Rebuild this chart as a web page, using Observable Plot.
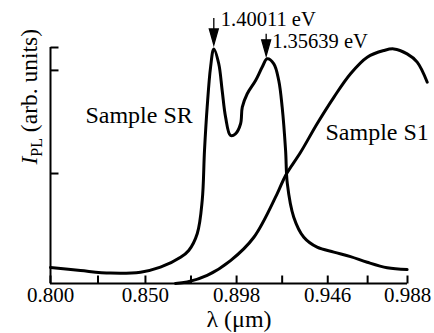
<!DOCTYPE html>
<html><head><meta charset="utf-8">
<script src="https://cdn.jsdelivr.net/npm/d3@7"></script>
<script src="https://cdn.jsdelivr.net/npm/@observablehq/plot@0.6"></script>
<style>html,body{margin:0;padding:0;background:#fff;}</style>
</head><body><div id="chart"></div>
<script>
// Sample SR photoluminescence (λ in µm, intensity in arb. units)
const srLambda = [0.8000,0.8158,0.8316,0.8474,0.8579,0.8685,0.8728,0.8773,0.8799,0.8811,0.8825,0.8843,0.8860,0.8886,0.8904,0.8922,0.8948,0.8974,0.9001,0.9010,0.9036,0.9080,0.9115,0.9141,0.9176,0.9202,0.9220,0.9238,0.9247,0.9281,0.9334,0.9404,0.9492,0.9580,0.9668,0.9773,0.9878];
const srIntensity = [0.068,0.055,0.044,0.048,0.069,0.111,0.140,0.212,0.352,0.564,0.747,0.917,0.994,0.931,0.818,0.705,0.627,0.634,0.677,0.747,0.804,0.860,0.917,0.952,0.931,0.860,0.747,0.564,0.424,0.281,0.196,0.154,0.133,0.114,0.090,0.067,0.059];
// Sample S1
const s1Lambda = [0.8658,0.8720,0.8825,0.8948,0.9071,0.9194,0.9238,0.9317,0.9404,0.9492,0.9580,0.9668,0.9755,0.9808,0.9878,0.9931,0.9984];
const s1Intensity = [0.000,0.006,0.034,0.097,0.196,0.381,0.458,0.556,0.677,0.789,0.889,0.959,0.987,0.994,0.973,0.938,0.853];
// axes
const xMajorTicks = [0.800,0.850,0.898,0.946,0.988];
const xMinorTicks = [0.825,0.874,0.922,0.967];
const yTicks = [0.466,0.903,1.0];
// annotations
const peakLambda = [0.8860,0.9141];
const peakIntensity = [0.994,0.952];
const peakLabels = ["1.40011 eV","1.35639 eV"];
const seriesNames = ["Sample SR","Sample S1"];
const xLabel = "λ (μm)";
const yLabelMain = "I", yLabelSub = "PL", yLabelRest = " (arb. units)";

const sr = srLambda.map((x,i)=>({x, y: srIntensity[i]}));
const s1 = s1Lambda.map((x,i)=>({x, y: s1Intensity[i]}));

const tickUp = {draw(c){c.moveTo(0,0);c.lineTo(0,-8);}};
const tickRight = {draw(c){c.moveTo(0,0);c.lineTo(8,0);}};
function arrowDown(len){return {draw(c){c.moveTo(0,-len);c.lineTo(0,-14);c.moveTo(-4.5,-16);c.lineTo(4.5,-16);c.lineTo(0,0);c.closePath();}};}

const font = "Liberation Serif, Times New Roman, serif";
const yLabelKey = yLabelMain + yLabelSub + yLabelRest;

const svg = Plot.plot({
  width: 434, height: 333,
  marginLeft: 50, marginRight: 27, marginTop: 47, marginBottom: 50,
  style: {fontFamily: font, fontSize: "20px", background: "white", color: "black"},
  x: {domain: [0.8, 0.988]},
  y: {domain: [0, 1], axis: null},
  marks: [
    Plot.axisX(xMajorTicks, {tickSize: 0, tickPadding: 4, tickFormat: d3.format(".3f"), label: null, fontSize: 21}),
    Plot.ruleY([0], {stroke: "black", strokeWidth: 2}),
    Plot.ruleX([0.8], {stroke: "black", strokeWidth: 2}),
    Plot.dot(xMajorTicks.concat(xMinorTicks), {x: d=>d, y: ()=>0, symbol: tickUp, r: 1, fill: "none", stroke: "black", strokeWidth: 2}),
    Plot.dot(yTicks, {x: ()=>0.8, y: d=>d, symbol: tickRight, r: 1, fill: "none", stroke: "black", strokeWidth: 2}),
    Plot.line(sr, {x: "x", y: "y", curve: "catmull-rom", stroke: "black", strokeWidth: 3}),
    Plot.line(s1, {x: "x", y: "y", curve: "catmull-rom", stroke: "black", strokeWidth: 3}),
    Plot.dot([0], {x: i=>peakLambda[i], y: i=>peakIntensity[i], dy: -4, symbol: arrowDown(27), r: 1, fill: "black", stroke: "black", strokeWidth: 1.3}),
    Plot.dot([1], {x: i=>peakLambda[i], y: i=>peakIntensity[i], dx: -1, dy: -3, symbol: arrowDown(22), r: 1, fill: "black", stroke: "black", strokeWidth: 1.3}),
    Plot.text([0], {x: i=>peakLambda[i], y: i=>peakIntensity[i], text: i=>peakLabels[i], textAnchor: "start", lineAnchor: "bottom", dx: 7, dy: -23, fontSize: 20.5}),
    Plot.text([1], {x: i=>peakLambda[i], y: i=>peakIntensity[i], text: i=>peakLabels[i], textAnchor: "start", lineAnchor: "bottom", dx: 5, dy: -11, fontSize: 20.5}),
    Plot.text([seriesNames[0]], {x: ()=>0.8184, y: ()=>0.682, text: d=>d, textAnchor: "start", lineAnchor: "bottom", fontSize: 24}),
    Plot.text([seriesNames[1]], {x: ()=>0.9448, y: ()=>0.609, text: d=>d, textAnchor: "start", lineAnchor: "bottom", fontSize: 24}),
    Plot.text([xLabel], {frameAnchor: "bottom", text: d=>d, dx: 10, dy: 43, lineAnchor: "bottom", fontSize: 24}),
    Plot.text([yLabelKey], {frameAnchor: "left", text: d=>d, rotate: -90, dx: -14, dy: -1, lineAnchor: "bottom", fontSize: 23.5})
  ]
});

d3.select(svg).selectAll("text").filter(function(){return this.textContent === yLabelKey;}).each(function(){
  const t = d3.select(this);
  t.text(null);
  t.append("tspan").attr("font-style","italic").text(yLabelMain);
  t.append("tspan").attr("font-size","16px").attr("dy","5").text(yLabelSub);
  t.append("tspan").attr("dy","-5").text(yLabelRest);
});

document.getElementById("chart").appendChild(svg);
</script>
</body></html>
